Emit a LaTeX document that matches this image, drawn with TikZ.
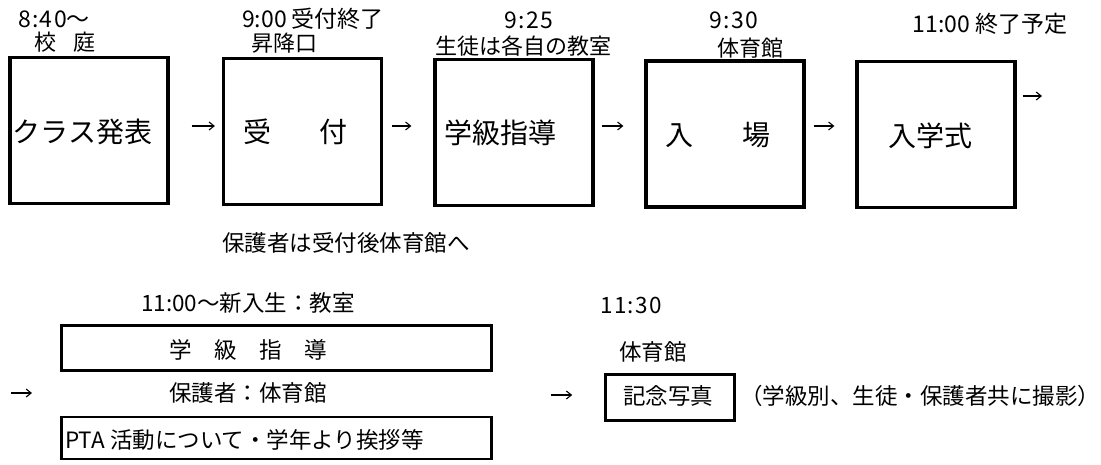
\documentclass[tikz,border=0pt]{standalone}
\usepackage{fontspec}
\setmainfont{Noto Sans CJK JP}
\usetikzlibrary{arrows.meta,calc}
\begin{document}
\begin{tikzpicture}[x=1pt,y=-1pt,
  bigbox/.style={draw, line width=3.2pt, minimum width=158pt, minimum height=146pt, inner sep=0pt},
  smallbox/.style={draw, line width=2.6pt, inner sep=0pt},
  lbl/.style={inner sep=0pt, font=\fontsize{23}{23}\selectfont},
  lbltwo/.style={inner sep=0pt, font=\fontsize{22}{22}\selectfont},
  boxtxt/.style={inner sep=0pt, font=\fontsize{28}{28}\selectfont},
  txt/.style={inner sep=0pt, font=\fontsize{22.5}{22.5}\selectfont},
  arr/.style={line width=1.1pt, -{Straight Barb[length=5pt,width=8pt]}}
]
\useasboundingbox (0,0) rectangle (1101,464);
\fill[white] (0,0) rectangle (1101,464);

% top row boxes
\node[bigbox] (b1) at (89,130.5) {};
\node[bigbox] (b2) at (302.5,131.5) {};
\node[bigbox] (b3) at (514,132.5) {};
\node[bigbox] (b4) at (725,134) {};
\node[bigbox] (b5) at (936,134.5) {};

% box texts
\node[boxtxt] (t1) at (82.5,132) {クラス発表};
\node[boxtxt] (t2) at (295.5,132) {受\hspace{48pt}付};
\node[boxtxt] (t3) at (500,133) {学級指導};
\node[boxtxt] (t4) at (718,135) {入\hspace{50pt}場};
\node[boxtxt] (t5) at (930,136) {入学式};

% labels above
\node[lbl] (l1a) at (54,19) {{\addfontfeatures{LetterSpace=6}8:40}〜};
\node[lbltwo] (l1b) at (65,42) {校\hspace{0.8em}庭};
\node[lbl] (l2a) at (313,19) {9:00 受付終了};
\node[lbltwo] (l2b) at (284,43) {昇降口};
\node[lbl] (l3a) at (529,20) {\addfontfeatures{LetterSpace=6}9:25};
\node[lbltwo] (l3b) at (523,46) {生徒は各自の教室};
\node[lbl] (l4a) at (734,20) {\addfontfeatures{LetterSpace=6}9:30};
\node[lbltwo] (l4b) at (750,48) {体育館};
\node[lbl] (l5a) at (990,24) {11:00 終了予定};

% arrows top row
\draw[arr] ($(b1.east)+(22,-4.5)$) -- ($(b2.west)+(-7,-5.5)$);
\draw[arr] ($(b2.east)+(9,-5.5)$) -- ($(b3.west)+(-22,-6.5)$);
\draw[arr] ($(b3.east)+(7,-6.5)$) -- ($(b4.west)+(-21,-8)$);
\draw[arr] ($(b4.east)+(8,-8)$) -- ($(b5.west)+(-21,-8.5)$);
\coordinate (e5) at (1042,96);
\draw[arr] ($(b5.east)+(6,-38.5)$) -- (e5);

% middle note
\node[txt] (note) at (346,243) {保護者は受付後体育館へ};

% bottom left group
\node[txt] (t6) at (248,303) {11:00〜新入生：教室};
\node[smallbox, minimum width=430pt, minimum height=45pt] (g1) at (276.5,348) {};
\node[txt] (g1t) at (248,350) {学\hspace{1em}級\hspace{1em}指\hspace{1em}導};
\node[txt] (t7) at (248,393) {保護者：体育館};
\node[smallbox, minimum width=430pt, minimum height=42pt] (g2) at (276.5,438) {};
\node[txt, anchor=west] (g2t) at (65,440) {PTA 活動について・学年より挨拶等};
\coordinate (s6) at (11,393);
\coordinate (e6) at (32,393);
\draw[arr] (s6) -- (e6);

% bottom right group
\node[txt] (t8) at (631,305) {\addfontfeatures{LetterSpace=6}11:30};
\node[txt] (t9) at (653,352) {体育館};
\node[smallbox, minimum width=129pt, minimum height=46pt] (k) at (670,397.5) {};
\node[txt] (kt) at (668,396) {記念写真};
\node[txt, anchor=west] (kn) at (740,396) {（学級別、生徒・保護者共に撮影）};
\coordinate (s7) at (551,395);
\draw[arr] (s7) -- ($(k.west)+(-32,-2.5)$);
\end{tikzpicture}
\end{document}
